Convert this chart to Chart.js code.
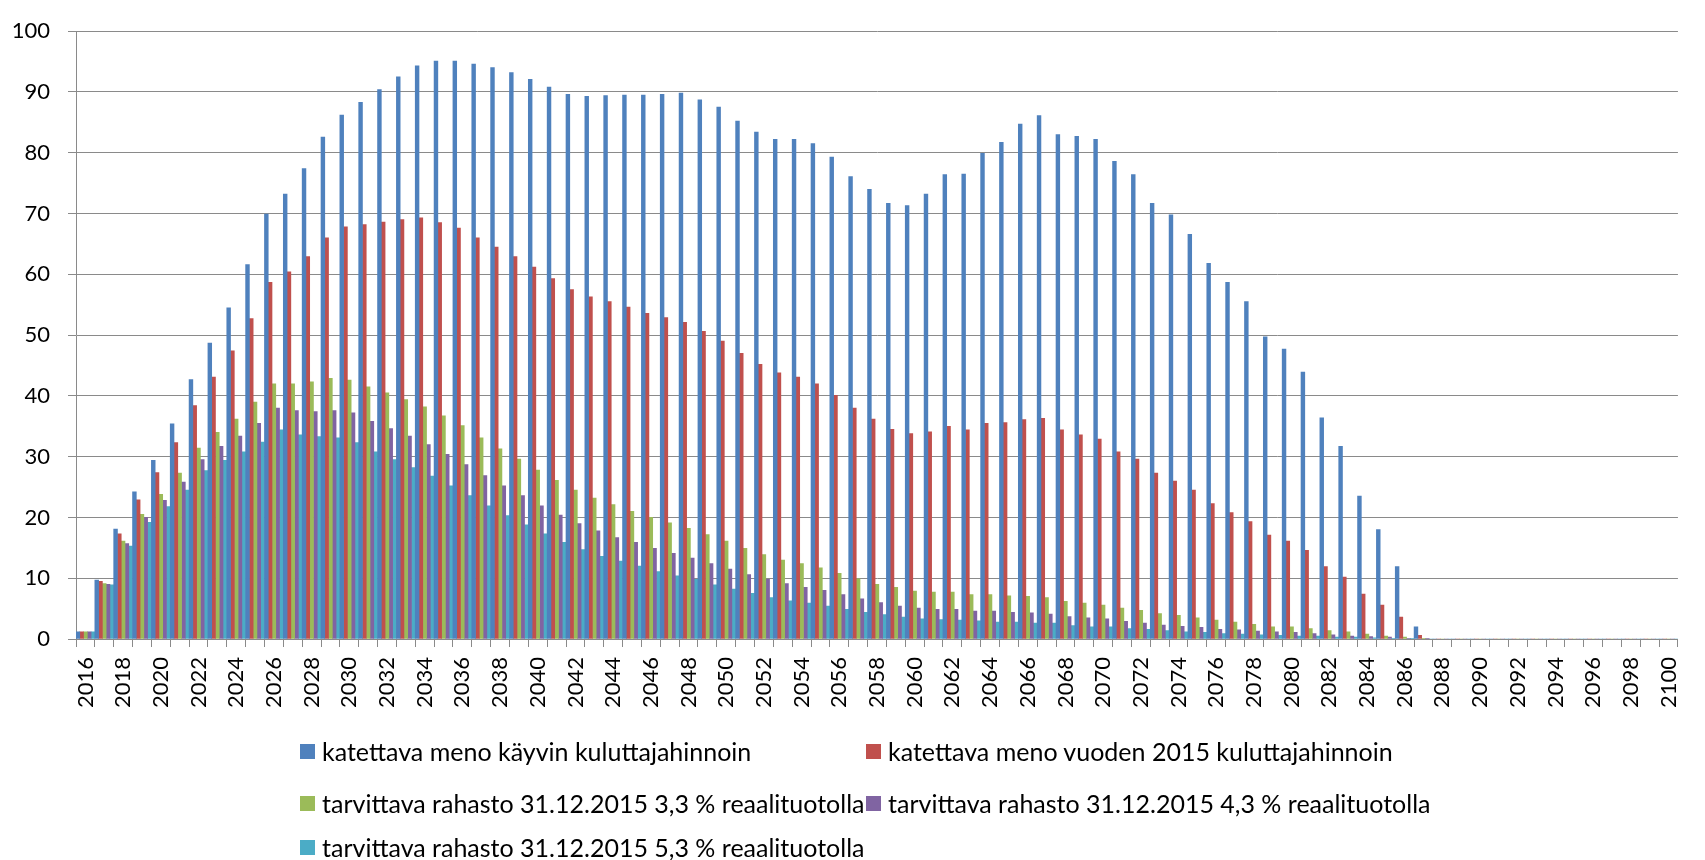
<!DOCTYPE html>
<html>
<head>
<meta charset="utf-8">
<script src="https://cdn.jsdelivr.net/npm/chart.js@4.4.1/dist/chart.umd.min.js"></script>
<style>
    html, body { margin: 0; padding: 0; background: #fff; }
    #wrap { position: relative; width: 1705px; height: 860px; }
    #legend { position: absolute; left: 0; top: 0; font-family: Lato, sans-serif; font-size: 25px; color: #000; }
    .lg { position: absolute; height: 28px; line-height: 28px; display: flex; align-items: center; white-space: nowrap; }
    .lg i { display: inline-block; width: 15px; height: 15px; margin-right: 7px; }
</style>
</head>
<body>
<div id="wrap">
    <canvas id="chart" width="1705" height="860"></canvas>
    <div id="legend"></div>
</div>
<script>
// ── DATA ──
const years = [
    2016, 2017, 2018, 2019, 2020, 2021, 2022, 2023, 2024, 2025, 2026, 2027, 2028, 2029, 2030,
    2031, 2032, 2033, 2034, 2035, 2036, 2037, 2038, 2039, 2040, 2041, 2042, 2043, 2044, 2045,
    2046, 2047, 2048, 2049, 2050, 2051, 2052, 2053, 2054, 2055, 2056, 2057, 2058, 2059, 2060,
    2061, 2062, 2063, 2064, 2065, 2066, 2067, 2068, 2069, 2070, 2071, 2072, 2073, 2074, 2075,
    2076, 2077, 2078, 2079, 2080, 2081, 2082, 2083, 2084, 2085, 2086, 2087, 2088, 2089, 2090,
    2091, 2092, 2093, 2094, 2095, 2096, 2097, 2098, 2099, 2100
];
const tickLabels = years.map(y => (y % 2 === 0 ? String(y) : ''));

const menoKayvin = [
    1.2, 9.7, 18.1, 24.2, 29.4, 35.4, 42.7, 48.7, 54.5, 61.6, 69.9, 73.2, 77.4, 82.6, 86.2,
    88.3, 90.4, 92.5, 94.3, 95.1, 95.1, 94.6, 94.0, 93.2, 92.1, 90.8, 89.6, 89.3, 89.4, 89.5,
    89.5, 89.6, 89.8, 88.7, 87.5, 85.2, 83.4, 82.2, 82.2, 81.5, 79.3, 76.1, 74.0, 71.7, 71.3,
    73.2, 76.4, 76.5, 79.9, 81.7, 84.7, 86.1, 83.0, 82.7, 82.2, 78.6, 76.4, 71.7, 69.8, 66.6,
    61.8, 58.7, 55.5, 49.7, 47.7, 43.9, 36.4, 31.7, 23.5, 18.0, 11.9, 2.0, 0, 0, 0,
    0, 0, 0, 0, 0, 0, 0, 0, 0, 0
];
const meno2015 = [
    1.2, 9.5, 17.3, 22.9, 27.4, 32.3, 38.4, 43.1, 47.4, 52.7, 58.7, 60.4, 62.9, 66.0, 67.8,
    68.2, 68.6, 69.0, 69.3, 68.5, 67.6, 66.0, 64.5, 62.9, 61.2, 59.3, 57.5, 56.3, 55.5, 54.6,
    53.6, 52.9, 52.1, 50.6, 49.0, 47.0, 45.2, 43.8, 43.1, 42.0, 40.1, 38.0, 36.2, 34.5, 33.8,
    34.1, 35.0, 34.4, 35.5, 35.6, 36.1, 36.3, 34.4, 33.6, 32.9, 30.8, 29.6, 27.3, 26.0, 24.5,
    22.3, 20.8, 19.3, 17.1, 16.1, 14.6, 11.9, 10.2, 7.4, 5.6, 3.6, 0.6, 0, 0, 0,
    0, 0, 0, 0, 0, 0, 0, 0, 0, 0
];
const rahasto33 = [
    1.2, 9.1, 16.1, 20.5, 23.8, 27.3, 31.4, 34.0, 36.2, 39.0, 42.0, 42.0, 42.3, 42.9, 42.6,
    41.5, 40.5, 39.4, 38.2, 36.7, 35.1, 33.1, 31.3, 29.6, 27.8, 26.1, 24.5, 23.2, 22.1, 21.0,
    20.0, 19.1, 18.2, 17.2, 16.1, 14.9, 13.9, 13.0, 12.4, 11.7, 10.8, 9.9, 9.0, 8.5, 7.9,
    7.7, 7.7, 7.3, 7.3, 7.1, 7.0, 6.8, 6.2, 5.9, 5.6, 5.1, 4.7, 4.2, 3.9, 3.5,
    3.1, 2.8, 2.4, 2.0, 2.0, 1.7, 1.4, 1.2, 0.8, 0.5, 0.3, 0.1, 0, 0, 0,
    0, 0, 0, 0, 0, 0, 0, 0, 0, 0
];
const rahasto43 = [
    1.2, 9.0, 15.7, 20.0, 22.8, 25.8, 29.5, 31.7, 33.4, 35.5, 38.0, 37.6, 37.4, 37.6, 37.2,
    35.8, 34.6, 33.4, 32.0, 30.4, 28.7, 26.9, 25.2, 23.6, 21.9, 20.4, 19.0, 17.8, 16.7, 15.9,
    14.9, 14.1, 13.3, 12.4, 11.5, 10.6, 9.8, 9.1, 8.5, 8.0, 7.3, 6.6, 6.0, 5.4, 5.1,
    4.9, 4.9, 4.6, 4.6, 4.4, 4.3, 4.1, 3.7, 3.5, 3.3, 2.9, 2.6, 2.3, 2.1, 1.9,
    1.6, 1.5, 1.3, 1.2, 1.1, 0.9, 0.7, 0.5, 0.4, 0.3, 0.1, 0.05, 0, 0, 0,
    0, 0, 0, 0, 0, 0, 0, 0, 0, 0
];
const rahasto53 = [
    1.2, 8.9, 15.3, 19.2, 21.8, 24.5, 27.7, 29.4, 30.8, 32.4, 34.4, 33.6, 33.3, 33.1, 32.3,
    30.8, 29.5, 28.2, 26.8, 25.2, 23.6, 21.9, 20.3, 18.8, 17.3, 15.9, 14.7, 13.6, 12.8, 12.0,
    11.1, 10.4, 9.8, 8.9, 8.2, 7.5, 6.8, 6.3, 5.9, 5.4, 4.9, 4.4, 4.0, 3.6, 3.3,
    3.2, 3.1, 3.0, 2.8, 2.8, 2.6, 2.6, 2.2, 2.0, 2.0, 1.7, 1.6, 1.4, 1.2, 1.1,
    0.9, 0.8, 0.7, 0.6, 0.5, 0.5, 0.3, 0.3, 0.2, 0.1, 0.05, 0, 0, 0, 0,
    0, 0, 0, 0, 0, 0, 0, 0, 0, 0
];

const seriesNames = [
    'katettava meno käyvin kuluttajahinnoin',
    'katettava meno vuoden 2015 kuluttajahinnoin',
    'tarvittava rahasto 31.12.2015 3,3 % reaalituotolla',
    'tarvittava rahasto 31.12.2015 4,3 % reaalituotolla',
    'tarvittava rahasto 31.12.2015 5,3 % reaalituotolla'
];
const seriesValues = [menoKayvin, meno2015, rahasto33, rahasto43, rahasto53];
const colors = ['#4f81bd', '#c0504d', '#9bbb59', '#8064a2', '#4bacc6'];

// legend slots (two columns, three rows)
const legendPos = [[300, 751], [866, 751], [300, 803], [866, 803], [300, 847]];

const FONT = 'Lato, sans-serif';
const GRID = '#8a8a8a';

new Chart(document.getElementById('chart'), {
    type: 'bar',
    data: {
        labels: years,
        datasets: seriesNames.map((name, i) => ({
            label: name,
            data: seriesValues[i],
            backgroundColor: colors[i],
            borderWidth: 0,
            barPercentage: 1,
            categoryPercentage: 1,
        }))
    },
    options: {
        responsive: false,
        animation: false,
        layout: { padding: { top: 17, right: 13, left: 0, bottom: 0 } },
        plugins: { legend: { display: false }, tooltip: { enabled: false } },
        scales: {
            x: {
                offset: true,
                grid: { drawOnChartArea: false, drawTicks: true, tickLength: 8, color: GRID, offset: true },
                border: { color: GRID, width: 1 },
                ticks: {
                    autoSkip: false, minRotation: 90, maxRotation: 90, padding: 10,
                    color: '#000', font: { family: FONT, size: 22 },
                    callback: (v, i) => tickLabels[i]
                },
                afterFit: s => { s.height = 221; }
            },
            y: {
                min: 0, max: 100,
                grid: { color: GRID, tickLength: 8 },
                border: { color: GRID, width: 1 },
                ticks: { stepSize: 10, padding: 18, color: '#000', font: { family: FONT, size: 22 } },
                afterFit: s => { s.width = 76; }
            }
        }
    }
});

// ── LEGEND ──
document.getElementById('legend').innerHTML = seriesNames.map((name, i) => `
    <div class="lg" style="left:${legendPos[i][0]}px;top:${legendPos[i][1] - 14}px">
      <i style="background:${colors[i]}"></i>${name}
    </div>`).join('');
</script>
</body>
</html>
